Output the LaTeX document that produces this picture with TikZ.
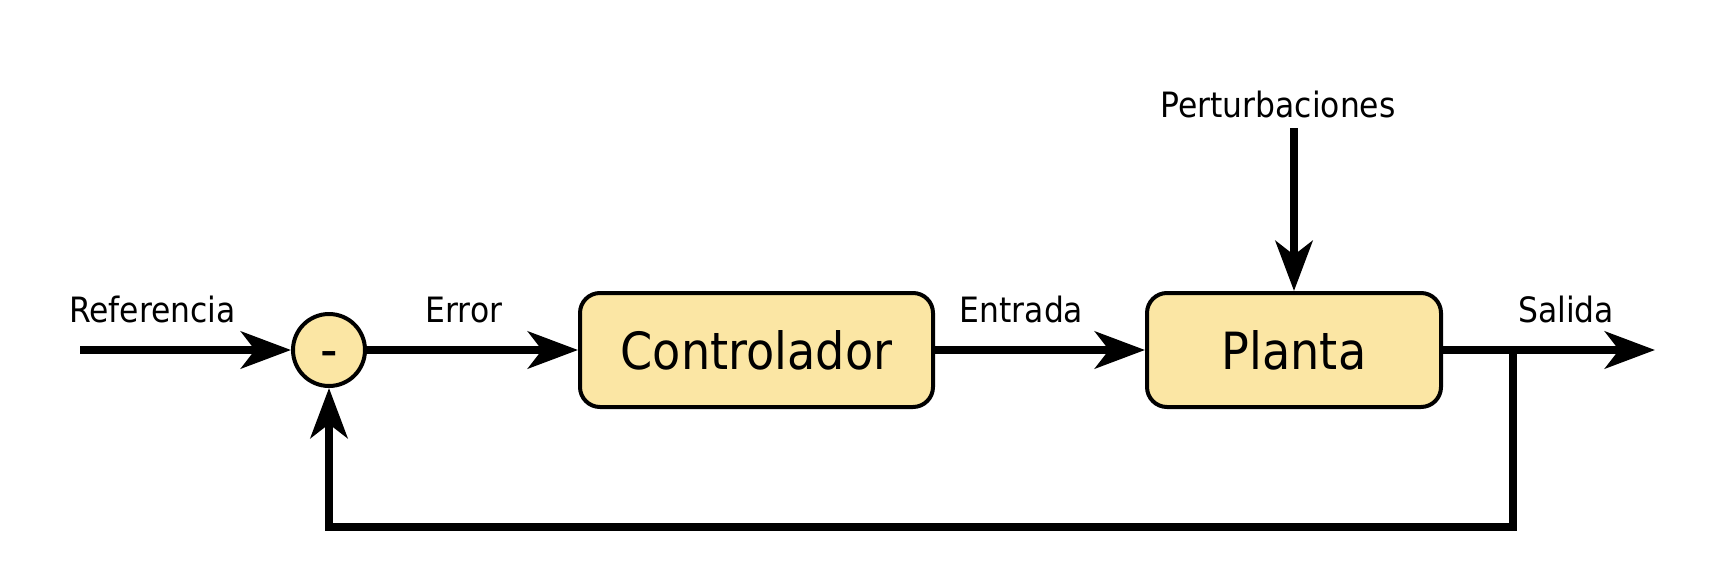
\documentclass[tikz,border=0pt]{standalone}
\usepackage{fontspec}
\setmainfont{DejaVu Sans}[FakeStretch=0.9]
\usetikzlibrary{arrows.meta}
\definecolor{boxfill}{RGB}{251,230,164}
\tikzset{
  sig/.style={line width=8pt, -{Stealth[length=50pt,width=37pt,inset=14pt]}},
  blockbox/.style={draw, line width=4pt, fill=boxfill, rounded corners=20pt,
    minimum height=114pt, inner sep=0pt, font=\fontsize{51.3}{60}\selectfont},
  sumnode/.style={draw, circle, line width=4pt, fill=boxfill, minimum size=72pt,
    inner sep=0pt, text height=36.6pt, text depth=0pt,
    font=\fontsize{54}{60}\selectfont},
  lbl/.style={anchor=base, inner sep=0pt, font=\fontsize{34.9}{40}\selectfont}
}
\begin{document}
\begin{tikzpicture}[x=1pt,y=-1pt]
\useasboundingbox (0,0) rectangle (1734,578);
\node[sumnode] (sum) at (329,350) {-};
\node[blockbox, minimum width=353pt] (ctrl) at (756.5,350) {Controlador};
\node[blockbox, minimum width=294pt] (plant) at (1294,350) {Planta};
\coordinate (ref) at (80,350);
\coordinate (out) at (1655,350);
\coordinate (branch) at (1513,350);
\coordinate (fb) at (1513,527);
\coordinate (dist) at (1294,128);
\node[lbl] (lref) at (152.5,322) {Referencia};
\node[lbl] (lerr) at (464,322) {Error};
\node[lbl] (lent) at (1021.5,322) {Entrada};
\node[lbl] (lsal) at (1566,322) {Salida};
\node[lbl] (lper) at (1278,117) {Perturbaciones};
\draw[sig] (ref) -- (sum);
\draw[sig] (sum) -- (ctrl);
\draw[sig] (ctrl) -- (plant);
\draw[sig] (plant.east) -- (out);
\draw[sig] (dist) -- (plant.north);
\draw[sig, line join=miter] (branch) -- (fb) -| (sum.south);
\end{tikzpicture}
\end{document}
